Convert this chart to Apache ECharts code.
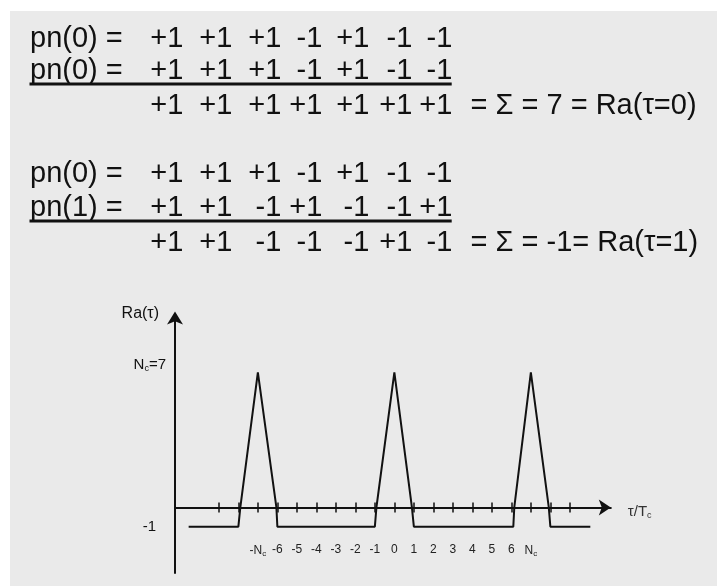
<!doctype html>
<html>
<head>
    <meta charset="utf-8">
    <title>Ra(τ)</title>
    <style type="text/css">
        body, html {
            width: 100%;
            height: 100%;
            margin: 0;
            padding: 0;
            background: #fff;
        }
    </style>
    <script src="https://fastly.jsdelivr.net/npm/echarts@6.0.0/dist/echarts.min.js"></script>
</head>

<body style="height: 100%; margin: 0">

<div id="container" style="width: 717px; height: 586px"></div>

<script type="text/javascript">
    // chip sequences and their products
    const pn0 = [1, 1, 1, -1, 1, -1, -1];
    const pn1 = [1, 1, -1, 1, -1, -1, 1];
    const prod0 = [1, 1, 1, 1, 1, 1, 1];
    const prod1 = [1, 1, -1, -1, -1, 1, -1];
    const rowNames = ['pn(0) =', 'pn(0) =', '', 'pn(0) =', 'pn(1) =', ''];
    const rowValues = [pn0, pn0, prod0, pn0, pn1, prod1];
    const sumTexts = ['= Σ = 7 = Ra(τ=0)', '= Σ = -1= Ra(τ=1)'];

    // autocorrelation curve: tau / Tc and Ra(tau)
    const nc = 7;
    const tau = [-10.55, -8, -7.9, -7, -6.05, -6, -1, -0.92, 0, 0.9, 1, 6.1, 6.15, 7, 7.92, 8, 10.05];
    const ra = [-1, -1, 0, 7, 0, -1, -1, 0, 7, 0, -1, -1, 0, 7, 0, -1, -1];
    const tickValues = [-9, -8, -7, -6, -5, -4, -3, -2, -1, 0, 1, 2, 3, 4, 5, 6, 7, 8, 9];
    const xLabelValues = [-7, -6, -5, -4, -3, -2, -1, 0, 1, 2, 3, 4, 5, 6, 7];
    const yLabelValues = [7, -1];

    const font = '"Liberation Sans", Arial, sans-serif';
    const ink = '#111';

    // equation block above the chart
    const colRight = [183.3, 232.3, 281.3, 322.3, 369.3, 412.3, 452.3];
    const rowY = [38.7, 70.8, 105.5, 174, 207.5, 243];
    const rules = [84, 221];
    const sumRows = [2, 5];

    function txt(text, x, y, align) {
        return {
            type: 'text',
            x: x,
            y: y,
            silent: true,
            style: {
                text: text,
                fill: ink,
                fontSize: 29,
                fontFamily: font,
                align: align,
                textAlign: align,
                verticalAlign: 'middle',
                textVerticalAlign: 'middle'
            }
        };
    }

    const graphics = [{
        type: 'rect',
        z: -10,
        silent: true,
        shape: {x: 10, y: 11, width: 707, height: 575},
        style: {fill: '#eaeaea'}
    }];
    rowValues.forEach(function (vals, r) {
        if (rowNames[r]) {
            graphics.push(txt(rowNames[r], 30, rowY[r], 'left'));
        }
        vals.forEach(function (v, i) {
            graphics.push(txt((v > 0 ? '+' : '-') + Math.abs(v), colRight[i], rowY[r], 'right'));
        });
    });
    sumRows.forEach(function (r, k) {
        graphics.push(txt(sumTexts[k], 470.5, rowY[r], 'left'));
    });
    rules.forEach(function (y) {
        graphics.push({
            type: 'line',
            silent: true,
            shape: {x1: 29.5, y1: y, x2: 451.7, y2: y},
            style: {stroke: ink, lineWidth: 3}
        });
    });

    const dom = document.getElementById('container');
    const myChart = echarts.init(dom, null, {renderer: 'canvas'});

    const axisLineStyle = {color: ink, width: 2};
    const tickStyle = {color: ink, width: 1.5};

    const option = {
        backgroundColor: '#fff',
        animation: false,
        graphic: graphics,
        grid: {
            left: 175,
            right: 106.2,
            top: 314.4,
            bottom: 13,
            containLabel: false,
            outerBoundsMode: 'none'
        },
        xAxis: [
            {
                type: 'value',
                min: -11.25,
                max: 11.1,
                position: 'bottom',
                axisLine: {
                    onZero: true,
                    onZeroAxisIndex: 0,
                    symbol: ['none', 'arrow'],
                    symbolSize: [12, 12],
                    lineStyle: axisLineStyle
                },
                axisTick: {show: true, customValues: tickValues, length: 5, inside: false, lineStyle: tickStyle},
                // labels sit at the grid bottom, pulled up under the zero line
                axisLabel: {
                    customValues: xLabelValues,
                    margin: -29,
                    formatter: function (v) {
                        if (v === -nc) return '{m|-N}{s|c}';
                        if (v === nc) return '{m|N}{s|c}';
                        return '{m|' + v + '}';
                    },
                    rich: {
                        m: {fontSize: 12, color: '#222', fontFamily: font},
                        s: {fontSize: 8, color: '#222', fontFamily: font, padding: [6, 0, 0, 0]}
                    }
                },
                splitLine: {show: false},
                name: '{t|τ/T}{s|c}',
                nameLocation: 'end',
                nameGap: 17,
                nameTextStyle: {
                    align: 'left',
                    verticalAlign: 'middle',
                    padding: [9, 0, 0, 0],
                    rich: {
                        t: {fontSize: 15, color: '#333', fontFamily: font},
                        s: {fontSize: 9, color: '#333', fontFamily: font, padding: [8, 0, 0, 0]}
                    }
                }
            },
            {
                type: 'value',
                min: -11.25,
                max: 11.1,
                position: 'bottom',
                axisLine: {show: false, onZero: true, onZeroAxisIndex: 0},
                axisTick: {show: true, customValues: tickValues, length: 5, inside: true, lineStyle: tickStyle},
                axisLabel: {show: false},
                splitLine: {show: false}
            }
        ],
        yAxis: {
            type: 'value',
            min: -3.4,
            max: 10,
            axisLine: {
                show: true,
                onZero: false,
                symbol: ['none', 'arrow'],
                symbolSize: [12, 13],
                symbolOffset: [0, 3],
                lineStyle: axisLineStyle
            },
            axisTick: {show: false},
            axisLabel: {
                customValues: yLabelValues,
                margin: 9,
                formatter: function (v) {
                    if (v === nc) return '{n|N}{s|c}{n|=' + nc + '}\n{e| }';
                    return '{d|' + v + '}';
                },
                rich: {
                    n: {fontSize: 15, color: ink, fontFamily: font},
                    s: {fontSize: 9, color: ink, fontFamily: font, padding: [7, 0, 0, 0]},
                    e: {fontSize: 10, lineHeight: 14},
                    d: {fontSize: 15, color: ink, fontFamily: font, padding: [0, 10, 0, 0]}
                }
            },
            splitLine: {show: false},
            name: 'Ra(τ)',
            nameLocation: 'end',
            nameGap: 1,
            nameTextStyle: {
                align: 'right',
                verticalAlign: 'middle',
                padding: [0, 16, 0, 0],
                fontSize: 16,
                color: ink,
                fontFamily: font
            }
        },
        series: [
            {
                name: 'Ra',
                type: 'line',
                xAxisIndex: 0,
                yAxisIndex: 0,
                symbol: 'none',
                clip: false,
                lineStyle: {color: ink, width: 2},
                data: tau.map(function (t, i) {
                    return [t, ra[i]];
                })
            }
        ]
    };

    myChart.setOption(option);

    window.addEventListener('resize', myChart.resize);
</script>

</body>
</html>
